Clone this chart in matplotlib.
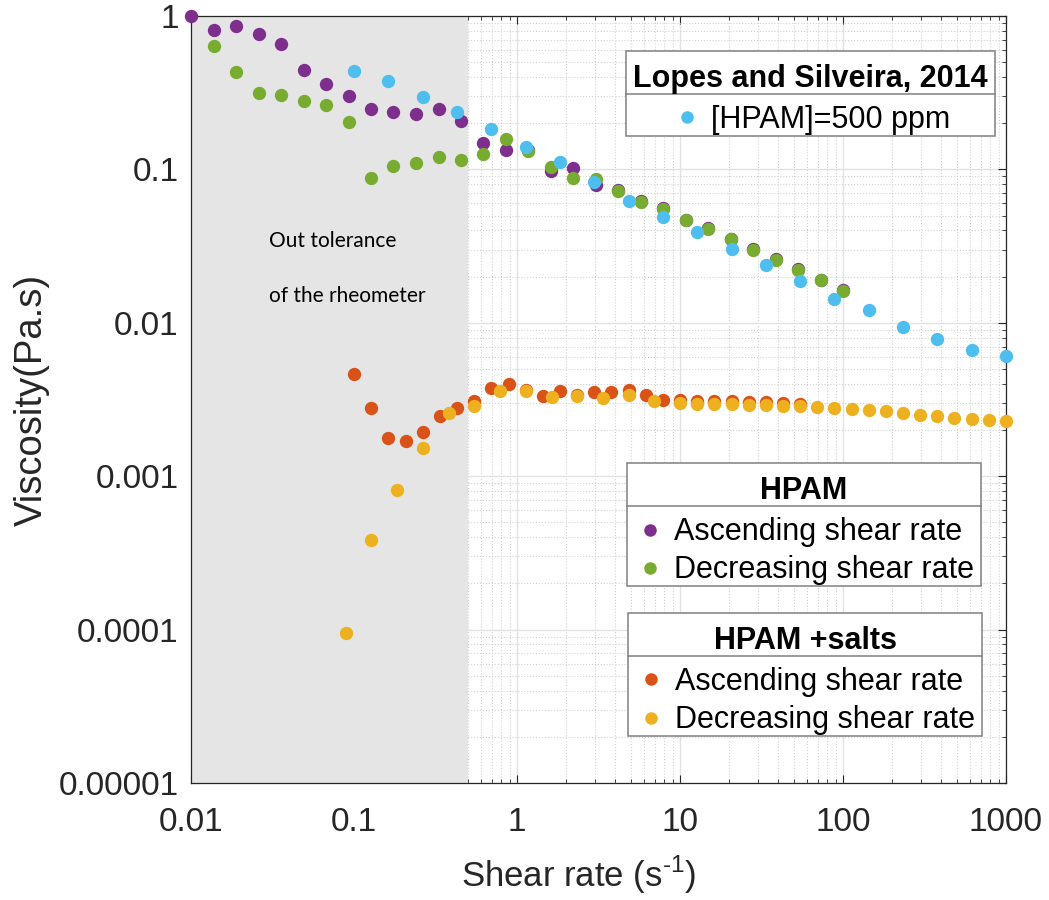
import matplotlib
matplotlib.use("Agg")
import matplotlib.pyplot as plt
from matplotlib.lines import Line2D
from matplotlib.patches import Rectangle

plt.rcParams['font.family'] = ['Liberation Sans', 'DejaVu Sans']
plt.rcParams['mathtext.fontset'] = 'custom'
plt.rcParams['mathtext.rm'] = 'Liberation Sans'

# HPAM (no salts), ascending / decreasing shear rate sweeps
shear_hpam = [0.01, 0.0137, 0.0189, 0.0259, 0.0356, 0.0489, 0.0672, 0.0924, 0.127, 0.174,
              0.240, 0.329, 0.452, 0.621, 0.853, 1.17, 1.61, 2.21, 3.04, 4.18,
              5.74, 7.88, 10.8, 14.9, 20.4, 28.1, 38.6, 53.0, 72.8, 100]
visc_hpam_up = [1.0, 0.814, 0.865, 0.760, 0.654, 0.443, 0.362, 0.300, 0.249, 0.236,
                0.229, 0.247, 0.207, 0.148, 0.134, 0.134, 0.0981, 0.1017, 0.0787, 0.0734,
                0.0625, 0.0560, 0.0471, 0.0412, 0.0354, 0.0304, 0.0259, 0.0223, 0.0191, 0.0163]
shear_hpam_down = shear_hpam[1:]
visc_hpam_down = [0.640, 0.430, 0.316, 0.304, 0.278, 0.264, 0.205, 0.0879, 0.1047,
                  0.110, 0.121, 0.1147, 0.1254, 0.157, 0.1318, 0.1032, 0.0875, 0.0866, 0.0723,
                  0.0616, 0.0549, 0.0468, 0.0409, 0.0352, 0.0300, 0.0257, 0.0221, 0.0189, 0.0162]

# HPAM + salts
shear_salts_up = [0.1, 0.127, 0.162, 0.207, 0.264, 0.336, 0.428, 0.546, 0.695, 0.886,
                  1.13, 1.44, 1.83, 2.34, 2.98, 3.79, 4.83, 6.16, 7.85, 10.0,
                  12.7, 16.2, 20.7, 26.4, 33.6, 42.8, 54.6]
visc_salts_up = [0.00464, 0.00280, 0.00177, 0.00170, 0.00193, 0.00246, 0.00277, 0.00309, 0.00374, 0.00399,
                 0.00365, 0.00333, 0.00359, 0.00340, 0.00356, 0.00356, 0.00365, 0.00337, 0.00314, 0.00312,
                 0.00311, 0.00311, 0.00308, 0.00306, 0.00305, 0.00301, 0.00296]
shear_salts_down = [0.0885, 0.126, 0.183, 0.263, 0.379, 0.544, 0.781, 1.13, 1.63, 2.33,
                    3.34, 4.83, 6.94, 10.0, 12.7, 16.2, 20.7, 26.4, 33.6, 42.8,
                    54.6, 69.5, 88.6, 113, 144, 183, 234, 298, 379, 483,
                    616, 785, 1000]
visc_salts_down = [9.55e-5, 3.84e-4, 8.13e-4, 1.53e-3, 2.59e-3, 2.87e-3, 3.61e-3, 3.61e-3, 3.28e-3, 3.33e-3,
                   3.23e-3, 3.38e-3, 3.11e-3, 2.99e-3, 2.96e-3, 2.97e-3, 2.94e-3, 2.93e-3, 2.91e-3, 2.88e-3,
                   2.86e-3, 2.83e-3, 2.78e-3, 2.75e-3, 2.70e-3, 2.65e-3, 2.58e-3, 2.52e-3, 2.46e-3, 2.41e-3,
                   2.37e-3, 2.32e-3, 2.28e-3]

# Lopes and Silveira, 2014
shear_lopes = [0.1, 0.162, 0.264, 0.428, 0.695, 1.13, 1.83, 2.98, 4.83, 7.85,
               12.7, 20.7, 33.6, 54.6, 88.6, 144, 234, 379, 616, 1000]
visc_lopes = [0.436, 0.375, 0.298, 0.238, 0.183, 0.140, 0.111, 0.0824, 0.0622, 0.0493,
              0.0389, 0.0302, 0.0237, 0.0186, 0.0144, 0.0121, 0.00939, 0.00787, 0.00662, 0.00608]

x_ticks = [0.01, 0.1, 1, 10, 100, 1000]
x_tick_labels = ['0.01', '0.1', '1', '10', '100', '1000']
y_ticks = [1e-5, 1e-4, 1e-3, 1e-2, 1e-1, 1]
y_tick_labels = ['0.00001', '0.0001', '0.001', '0.01', '0.1', '1']

c_purple = '#7E2F8E'
c_green = '#77AC30'
c_red = '#D95319'
c_yellow = '#EDB120'
c_blue = '#4DBEEE'
dark = '#262626'
frame_grey = '#808080'
ms = 9.6

fig = plt.figure(figsize=(10.49, 9.0), dpi=100)
ax = fig.add_axes([0.1824, 0.13, 0.7766, 0.8522])
ax.set_xscale('log')
ax.set_yscale('log')
ax.set_xlim(0.01, 1000)
ax.set_ylim(1e-5, 1)

ax.set_axisbelow(True)
ax.grid(True, which='major', color='#e2e2e2', lw=1.0, ls='-', zorder=0.5)
ax.grid(True, which='minor', color='#d2d2d2', lw=0.8, ls=':', zorder=0.5)

# out-of-tolerance zone of the rheometer
ax.axvspan(0.01, 0.5, color='#e5e5e5', lw=0, zorder=1)
ax.text(0.03, 0.0339, 'Out tolerance', family='Lato', fontsize=15, va='center', zorder=2)
ax.text(0.03, 0.0150, 'of the rheometer', family='Lato', fontsize=15, va='center', zorder=2)

ax.plot(shear_hpam, visc_hpam_up, 'o', color=c_purple, ms=ms, mew=0, clip_on=False, zorder=3)
ax.plot(shear_hpam_down, visc_hpam_down, 'o', color=c_green, ms=ms, mew=0, clip_on=False, zorder=3)
ax.plot(shear_salts_up, visc_salts_up, 'o', color=c_red, ms=ms, mew=0, clip_on=False, zorder=3)
ax.plot(shear_salts_down, visc_salts_down, 'o', color=c_yellow, ms=ms, mew=0, clip_on=False, zorder=3)
ax.plot(shear_lopes, visc_lopes, 'o', color=c_blue, ms=ms, mew=0, clip_on=False, zorder=3)

ax.set_xticks(x_ticks, x_tick_labels)
ax.set_yticks(y_ticks, y_tick_labels)
ax.tick_params(which='both', direction='in', top=True, right=True, color=dark, labelcolor=dark)
ax.tick_params(which='major', length=6, width=0.8, labelsize=24)
ax.tick_params(which='minor', length=3, width=0.6)
ax.tick_params(axis='x', which='major', pad=17)
ax.tick_params(axis='y', which='major', pad=9)
for s in ax.spines.values():
    s.set_color(dark)
    s.set_linewidth(0.9)

ax.set_xlabel('Shear rate (s$^{\\mathregular{\u2010}1}$)', fontsize=25, color=dark)
ax.set_ylabel('Viscosity(Pa.s)', fontsize=27.5, color=dark)
ax.xaxis.set_label_coords(0.476, -0.0925)
ax.yaxis.set_label_coords(-0.1734, 0.5)

# legend contents sit a little lower in their boxes than matplotlib puts them
shift = 6


def make_legend(entries, title, cx, cy):
    handles = [Line2D([], [], marker='o', ls='none', color=c, ms=9, mew=0) for c, _ in entries]
    labels = [t for _, t in entries]
    leg = fig.legend(handles, labels, title=title, loc='center',
                     bbox_to_anchor=(cx / 1049, 1 - (cy + shift) / 900), bbox_transform=fig.transFigure,
                     fontsize=22, title_fontproperties={'weight': 'bold', 'size': 22},
                     frameon=False, borderpad=0.23, labelspacing=0.27,
                     handlelength=1.05, handletextpad=0.25, borderaxespad=0)
    leg._legend_box.sep = 8.1
    return leg


legends = [
    make_legend([(c_blue, '[HPAM]=500 ppm')], 'Lopes and Silveira, 2014', 810.5, 93.4),
    make_legend([(c_purple, 'Ascending shear rate'), (c_green, 'Decreasing shear rate')],
                'HPAM', 803.8, 524.7),
    make_legend([(c_red, 'Ascending shear rate'), (c_yellow, 'Decreasing shear rate')],
                'HPAM +salts', 805.3, 674.5),
]

# boxes and the rule under each legend title, as in the original
fig.canvas.draw()
renderer = fig.canvas.get_renderer()
inv = fig.transFigure.inverted()
for leg in legends:
    box = leg.get_window_extent(renderer)
    tb = leg.get_title().get_window_extent(renderer)
    (bx0, by0), (bx1, by1) = inv.transform([(box.x0, box.y0 + shift), (box.x1, box.y1 + shift)])
    fig.add_artist(Rectangle((bx0, by0), bx1 - bx0, by1 - by0, transform=fig.transFigure,
                             facecolor='white', edgecolor=frame_grey, lw=1.1, zorder=4.5))
    (x0, yf), (x1, _) = inv.transform([(box.x0, tb.y0), (box.x1, tb.y0)])
    fig.add_artist(Line2D([x0, x1], [yf, yf], transform=fig.transFigure, color=frame_grey, lw=1.1, zorder=4.6))

fig.savefig('out.png', dpi=100)
